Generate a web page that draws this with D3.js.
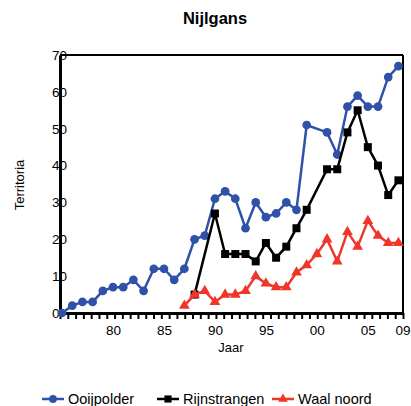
<!DOCTYPE html>
<html><head><meta charset="utf-8">
<script src="https://cdn.jsdelivr.net/npm/d3@7"></script>
<style>
body{margin:0;background:#fff;}
text{font-family:"Liberation Sans",Arial,sans-serif;}
</style></head>
<body><svg id="c" width="411" height="406"></svg>
<script>
const title = "Nijlgans";
const xTitle = "Jaar";
const yTitle = "Territoria";
const xTickYears = [1980, 1985, 1990, 1995, 2000, 2005];
const xTickLabels = ["80", "85", "90", "95", "00", "05"];
const xEndLabel = "09";
const yTicks = [0, 10, 20, 30, 40, 50, 60, 70];
const seriesNames = ["Ooijpolder", "Rijnstrangen", "Waal noord"];

const ooijYears = [1975,1976,1977,1978,1979,1980,1981,1982,1983,1984,1985,1986,1987,1988,1989,1990,1991,1992,1993,1994,1995,1996,1997,1998,1999,2001,2002,2003,2004,2005,2006,2007,2008];
const ooijValues = [0,2,3,3,6,7,7,9,6,12,12,9,12,20,21,31,33,31,23,30,26,27,30,28,51,49,43,56,59,56,56,64,67];

const rijnYears = [1988,1990,1991,1992,1993,1994,1995,1996,1997,1998,1999,2001,2002,2003,2004,2005,2006,2007,2008];
const rijnValues = [5,27,16,16,16,14,19,15,18,23,28,39,39,49,55,45,40,32,36];

const waalYears = [1987,1988,1989,1990,1991,1992,1993,1994,1995,1996,1997,1998,1999,2000,2001,2002,2003,2004,2005,2006,2007,2008];
const waalValues = [2,5,6,3,5,5,6,10,8,7,7,11,13,16,20,14,22,18,25,21,19,19];

const colors = ["#2f52a8", "#000000", "#f2352a"];

const svg = d3.select("#c");
const L = 60, R = 403, T = 55, B = 313;
const x = d3.scaleLinear().domain([1974.8, 2008.45]).range([L, R]);
const y = d3.scaleLinear().domain([0, 70]).range([B, T]);

// frame top/right
svg.append("line").attr("x1", L).attr("x2", R).attr("y1", T).attr("y2", T).attr("stroke", "#000").attr("stroke-width", 2);
svg.append("line").attr("x1", R).attr("x2", R).attr("y1", T).attr("y2", B).attr("stroke", "#000").attr("stroke-width", 2);

// x axis minor ticks
const nMinor = 44;
const minorVals = d3.range(nMinor + 1).map(i => x.invert(L + (R - L) * i / nMinor));
const xAxis = d3.axisBottom(x).tickValues(minorVals).tickFormat("").tickSize(6).tickSizeOuter(0);
const gx = svg.append("g").attr("transform", `translate(0,${B})`).call(xAxis);
gx.select(".domain").attr("stroke-width", 3);
gx.selectAll(".tick line").attr("stroke-width", 2);

// x labels
const gxl = svg.append("g").attr("transform", `translate(0,${B})`)
  .call(d3.axisBottom(x).tickValues(xTickYears).tickFormat((d, i) => xTickLabels[i]).tickSize(0).tickPadding(12.5));
gxl.select(".domain").remove();
gxl.selectAll("text").attr("font-size", 13.5).attr("fill", "#000").attr("font-family", "Liberation Sans, Arial, sans-serif");
svg.append("text").attr("x", R).attr("y", B + 12.5).attr("dy", "0.71em").attr("text-anchor", "middle")
  .attr("font-size", 13.5).text(xEndLabel);

// y axis
const yAxis = d3.axisLeft(y).tickValues(yTicks).tickSize(0).tickFormat(d3.format("d")).tickSizeOuter(0);
const gy = svg.append("g").attr("transform", `translate(${L},0)`).call(yAxis);
gy.select(".domain").attr("stroke-width", 3);
gy.selectAll("text").attr("x", -8).attr("text-anchor", "start").attr("font-size", 13.5)
  .attr("fill", "#000").attr("font-family", "Liberation Sans, Arial, sans-serif");
gy.raise();

// titles
svg.append("text").attr("x", 215).attr("y", 24).attr("text-anchor", "middle").attr("font-size", 16.5)
  .attr("font-weight", "bold").text(title);
svg.append("text").attr("x", 231).attr("y", 352).attr("text-anchor", "middle").attr("font-size", 13).text(xTitle);
svg.append("text").attr("transform", "translate(24,185) rotate(-90)").attr("text-anchor", "middle")
  .attr("font-size", 13).text(yTitle);

const series = [
  {years: ooijYears, values: ooijValues, sym: d3.symbolCircle, size: 60},
  {years: rijnYears, values: rijnValues, sym: d3.symbolSquare, size: 64},
  {years: waalYears, values: waalValues, sym: d3.symbolTriangle, size: 50}
];
const line = d3.line().x(d => x(d[0])).y(d => y(d[1]));
series.forEach((s, i) => {
  const pts = s.years.map((yr, j) => [yr, s.values[j]]);
  svg.append("path").attr("d", line(pts)).attr("fill", "none").attr("stroke", colors[i]).attr("stroke-width", 2.5);
  svg.append("g").selectAll("path").data(pts).join("path")
    .attr("transform", d => `translate(${x(d[0])},${y(d[1])})`)
    .attr("d", d3.symbol().type(s.sym).size(s.size)).attr("fill", colors[i]);
});

// legend
const legX = [42, 157, 272];
seriesNames.forEach((n, i) => {
  const g = svg.append("g");
  g.append("line").attr("x1", legX[i]).attr("x2", legX[i] + 22).attr("y1", 399).attr("y2", 399)
    .attr("stroke", colors[i]).attr("stroke-width", 2.5);
  g.append("path").attr("transform", `translate(${legX[i] + 11},399)`)
    .attr("d", d3.symbol().type(series[i].sym).size(series[i].size * 0.8)).attr("fill", colors[i]);
  g.append("text").attr("x", legX[i] + 26).attr("y", 404).attr("font-size", 14.5).text(n);
});
</script></body></html>
